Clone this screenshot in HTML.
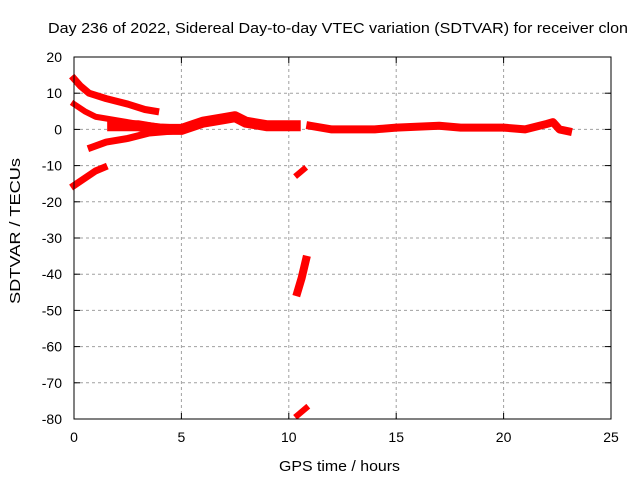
<!DOCTYPE html>
<html><head><meta charset="utf-8"><style>
body{margin:0;background:#fff;font-family:"Liberation Sans",sans-serif}
svg text{font-family:"Liberation Sans",sans-serif;font-size:14px;fill:#000}
</style></head><body>
<svg width="640" height="480">
<text x="48" y="33" textLength="580" lengthAdjust="spacingAndGlyphs" style="font-size:15px">Day 236 of 2022, Sidereal Day-to-day VTEC variation (SDTVAR) for receiver clon</text>
<g id="grid"></g>
<g id="marks"></g>
<rect x="74" y="57" width="537" height="362" fill="none" stroke="#000" stroke-width="1"/>
<g id="ticks"></g>
<text x="279" y="471" textLength="121" lengthAdjust="spacingAndGlyphs" style="font-size:15px">GPS time / hours</text>
<text transform="translate(20,304) rotate(-90)" textLength="146" lengthAdjust="spacingAndGlyphs" style="font-size:15px">SDTVAR / TECUs</text>
</svg>
<script>
const xTicks=[0,5,10,15,20,25];
const yTicks=[20,10,0,-10,-20,-30,-40,-50,-60,-70,-80];
const aX=[0,0.3,0.7,1.5,2.5,3.3,3.8]; const aY=[14,12,10,8.5,7,5.5,5];
const bX=[0,0.5,1,2,3,4,5]; const bY=[7,5,3.5,2.5,1.5,0.8,0.5];
const cX=[1.8,3,4,5,6,7,7.5,8,9,10.3]; const cY=[1,1,0,0,2,3,3.5,2,1,1];
const c2X=[0.8,1.5,2.5,3.5,4.5]; const c2Y=[-5,-3.5,-2.5,-1,-0.5];
const dX=[0,0.5,1,1.4]; const dY=[-15.5,-13.5,-11.5,-10.5];
const eX=[10.4,10.7]; const eY=[-12.5,-11];
const fX=[10.4,10.6,10.8]; const fY=[-45,-41,-36];
const gX=[10.4,10.8]; const gY=[-79,-77];
const hX=[11,12,14,15,17,18,20,21,22,22.3,22.6,23]; const hY=[1,0,0,0.5,1,0.5,0.5,0,1.5,2,0,-0.5];
const X=h=>74+h*537/25, Y=v=>57+(20-v)*362/100;
const NS="http://www.w3.org/2000/svg";
const grid=document.getElementById('grid'),ticks=document.getElementById('ticks'),marks=document.getElementById('marks');
function mk(tag,at,parent){const e=document.createElementNS(NS,tag);for(const k in at)e.setAttribute(k,at[k]);parent.appendChild(e);return e;}
xTicks.forEach(t=>{const x=X(t);
 if(t>0&&t<25){const l=mk('line',{x1:x,x2:x,y1:57,y2:419,stroke:'#a0a0a0','stroke-dasharray':'3,3'},grid);}
 mk('line',{x1:x,x2:x,y1:419,y2:413,stroke:'#000'},ticks);mk('line',{x1:x,x2:x,y1:57,y2:63,stroke:'#000'},ticks);
 const tx=mk('text',{x:x,y:442,'text-anchor':'middle'},ticks);tx.textContent=t;});
yTicks.forEach(t=>{const y=Y(t);
 if(t<20&&t>-80){const l=mk('line',{x1:74,x2:611,y1:y,y2:y,stroke:'#a0a0a0','stroke-dasharray':'3,3'},grid);}
 mk('line',{x1:74,x2:80,y1:y,y2:y,stroke:'#000'},ticks);mk('line',{x1:611,x2:605,y1:y,y2:y,stroke:'#000'},ticks);
 const tx=mk('text',{x:62,y:y+5,'text-anchor':'end'},ticks);tx.textContent=t;});
[[aX,aY,7],[bX,bY,6],[cX,cY,11],[c2X,c2Y,7],[dX,dY,7],[eX,eY,6],[fX,fY,8],[gX,gY,6],[hX,hY,8]].forEach((s,i)=>{
 const pts=s[0].map((h,j)=>X(h)+','+Y(s[1][j])).join(' ');
 const p=mk('polyline',{points:pts,fill:'none',stroke:'#ff0000','stroke-width':s[2],'stroke-linejoin':'round','stroke-linecap':'square'},marks);
 
 });
</script>
</body></html>
